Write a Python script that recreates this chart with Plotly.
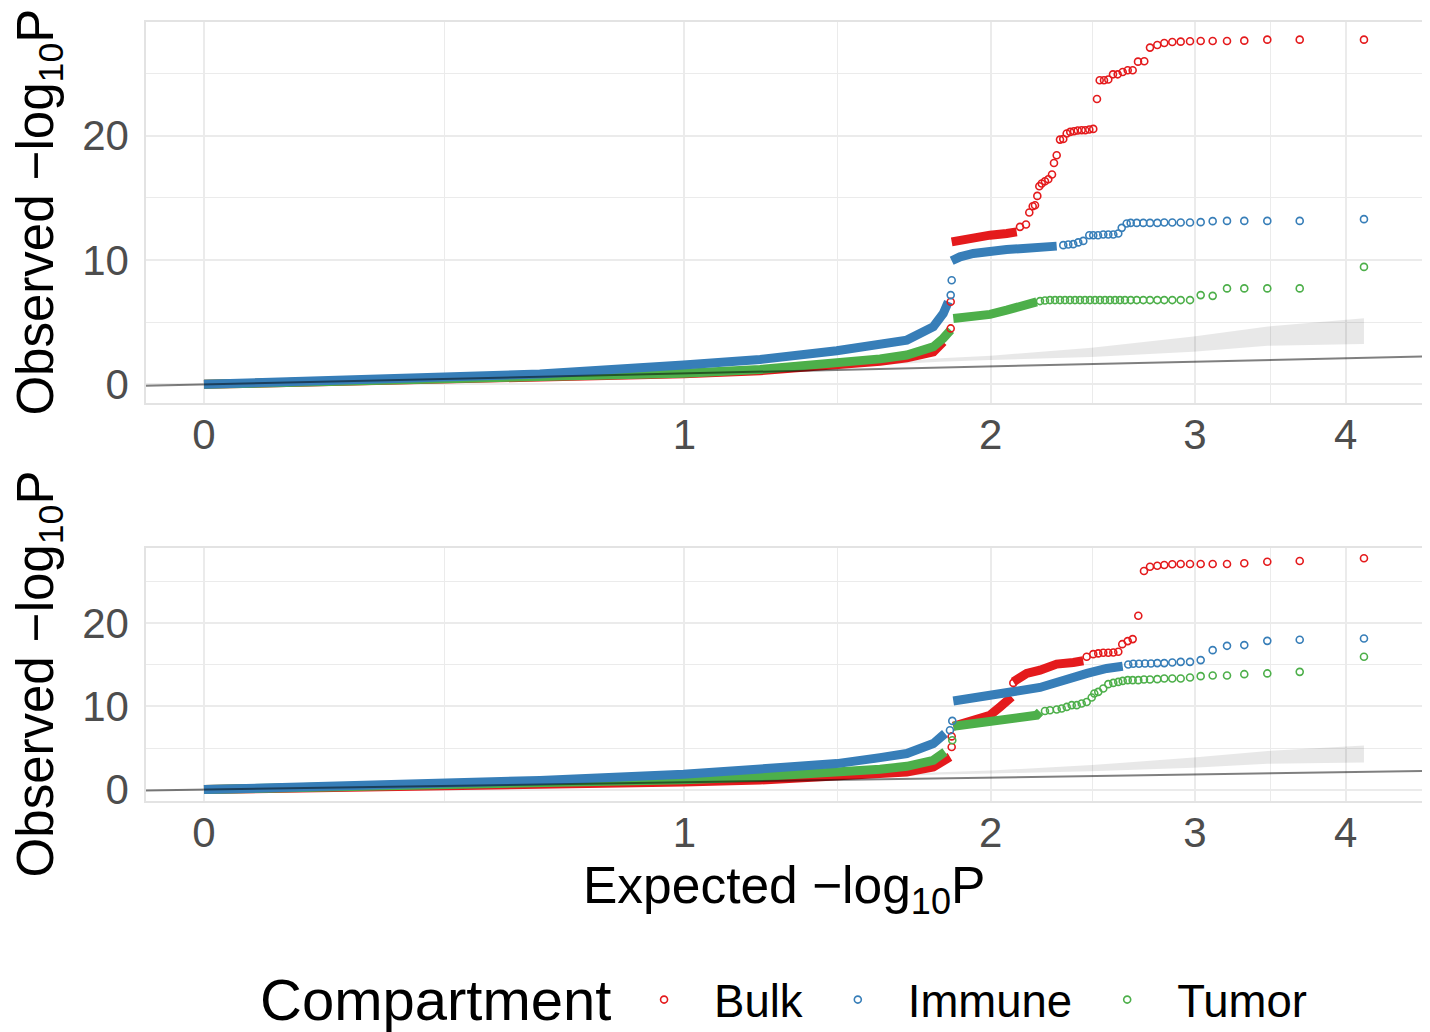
import numpy as np
import plotly.graph_objects as go

NaN = float("nan")

# ---------------- data: expected vs observed -log10(P) ----------------
# dense (heavily overplotted) stretches, segments separated by NaN
top_bulk_dense_x = [0, 0.177, 0.367, 0.656, 0.998, 1.207, 1.44, 1.584, 1.678, 1.775, 1.8125, NaN,
                    1.8447, 1.9295, 1.9969, 2.0662, 2.1087]
top_bulk_dense_y = [0, 0.15, 0.3, 0.5, 0.85, 1.1, 1.47, 1.85, 2.14, 2.62, 3.42, NaN,
                    11.46, 11.81, 12.0, 12.14, 12.27]
top_bulk_x = [1.8409, 1.8409, 2.1228, 2.1489, 2.1632, 2.1782, 2.1883, 2.1985, 2.2074, 2.2181, 2.2327,
              2.2477, 2.2644, 2.2734, 2.2858, 2.301, 2.3161, 2.332, 2.3487, 2.3662, 2.3837, 2.4026,
              2.42, 2.4392, 2.4585, 2.4766, 2.49, 2.5112, 2.5327, 2.5562, 2.5799, 2.6055, 2.6313,
              2.657, 2.6849, 2.7181, 2.7486, 2.788, 2.8262, 2.8706, 2.9178, 2.9709, 3.033, 3.104,
              3.1908, 3.2984, 3.4469, 3.6667, 4.1413]
top_bulk_y = [4.5, 6.64, 12.67, 12.86, 13.83, 14.33, 14.41, 15.16, 15.94, 16.16, 16.34,
              16.5, 16.88, 17.81, 18.43, 19.69, 19.74, 20.18, 20.31, 20.36, 20.42, 20.44,
              20.44, 20.5, 20.55, 22.96, 24.46, 24.46, 24.52, 24.94, 24.94, 25.13, 25.27,
              25.27, 25.96, 25.99, 27.09, 27.3, 27.46, 27.54, 27.57, 27.6, 27.62, 27.62,
              27.62, 27.65, 27.73, 27.73, 27.73]

top_immune_dense_x = [0, 0.177, 0.367, 0.656, 0.998, 1.207, 1.44, 1.584, 1.678, 1.775, 1.8125, 1.8317, NaN,
                      1.8447, 1.877, 1.9295, 1.9969, 2.0662, 2.1371, 2.2105, 2.2858]
top_immune_dense_y = [0, 0.25, 0.45, 0.83, 1.55, 2.0, 2.7, 3.16, 3.56, 4.63, 5.7, 6.64, NaN,
                      9.94, 10.26, 10.53, 10.74, 10.85, 10.93, 11.01, 11.12]
top_immune_x = [1.8409, 1.8447, 2.3161, 2.3394, 2.3627, 2.3864, 2.4103, 2.4392, 2.4585, 2.4817,
                2.5077, 2.5327, 2.5578, 2.583, 2.6005, 2.626, 2.6467, 2.6782, 2.7129, 2.7486,
                2.788, 2.8262, 2.8706, 2.9178, 2.9709, 3.033, 3.104, 3.1908, 3.2984, 3.4469,
                3.6667, 4.1413]
top_immune_y = [7.18, 8.38, 11.2, 11.25, 11.28, 11.42, 11.54, 12.0, 12.0, 12.0,
                12.06, 12.06, 12.06, 12.14, 12.59, 12.94, 12.99, 12.99, 12.99, 12.99,
                12.99, 13.02, 13.02, 13.02, 13.02, 13.05, 13.13, 13.15, 13.15, 13.15,
                13.15, 13.29]

top_tumor_dense_x = [0, 0.177, 0.367, 0.656, 0.998, 1.207, 1.44, 1.584, 1.678, 1.775, 1.8125, 1.8409, NaN,
                     1.8509, 1.9295, 1.9969, 2.0662, 2.1087, 2.1518, 2.1958]
top_tumor_dense_y = [0, 0.17, 0.33, 0.55, 0.9, 1.2, 1.69, 2.05, 2.36, 3.02, 3.7, 4.37, NaN,
                     5.3, 5.43, 5.63, 5.97, 6.19, 6.37, 6.64]
top_tumor_x = [2.2105, 2.2327, 2.2553, 2.2781, 2.301, 2.324, 2.3474, 2.3709, 2.3945, 2.4184,
               2.4426, 2.467, 2.4913, 2.5161, 2.5411, 2.5664, 2.5916, 2.6172, 2.6467, 2.6782,
               2.7129, 2.7486, 2.788, 2.8262, 2.8706, 2.9178, 2.9709, 3.033, 3.104, 3.1908,
               3.2984, 3.4469, 3.6667, 4.1413]
top_tumor_y = [6.7, 6.75, 6.78, 6.78, 6.78, 6.78, 6.78, 6.78, 6.78, 6.78,
               6.78, 6.78, 6.78, 6.78, 6.78, 6.78, 6.78, 6.78, 6.78, 6.78,
               6.78, 6.78, 6.78, 6.78, 6.78, 6.78, 6.78, 7.18, 7.12, 7.72,
               7.72, 7.72, 7.72, 9.45]

bot_bulk_dense_x = [0, 0.177, 0.367, 0.656, 0.998, 1.207, 1.44, 1.584, 1.678, 1.775, 1.819, 1.838, NaN,
                    1.8509, 1.9295, 1.9969, 2.0383, 2.0662, 2.0873, NaN,
                    2.0943, 2.1371, 2.1518, 2.2105, 2.2553, 2.2858, 2.3627, 2.4103]
bot_bulk_dense_y = [0, 0.15, 0.3, 0.52, 0.92, 1.15, 1.52, 1.85, 2.12, 2.72, 3.53, 3.93, NaN,
                    7.63, 8.35, 8.95, 9.95, 10.55, 11.16, NaN,
                    12.96, 13.57, 13.98, 14.37, 14.9, 15.1, 15.3, 15.5]
bot_bulk_x = [1.8447, 1.8447, 2.0943, 2.4266, 2.4585, 2.483, 2.5077, 2.5327, 2.5578, 2.583,
              2.6032, 2.6313, 2.657, 2.6865, 2.7165, 2.7486, 2.788, 2.8262, 2.8706, 2.9178,
              2.9709, 3.033, 3.104, 3.1908, 3.2984, 3.4469, 3.6667, 4.1413]
bot_bulk_y = [5.13, 6.4, 12.84, 15.98, 16.3, 16.39, 16.46, 16.46, 16.5, 16.58,
              17.5, 17.87, 18.11, 20.92, 26.3, 26.82, 26.94, 27.02, 27.11, 27.14,
              27.14, 27.14, 27.14, 27.14, 27.23, 27.42, 27.5, 27.83]

bot_immune_dense_x = [0, 0.177, 0.367, 0.656, 0.998, 1.207, 1.44, 1.584, 1.678, 1.775, 1.819, NaN,
                      1.8509, 1.9295, 1.9969, 2.0662, 2.1371, 2.2105, 2.2696, 2.3474, 2.4281, 2.5245, 2.6055]
bot_immune_dense_y = [0, 0.3, 0.6, 1.1, 1.84, 2.45, 3.13, 3.85, 4.34, 5.54, 6.75, NaN,
                      10.67, 11.08, 11.24, 11.57, 11.88, 12.29, 12.77, 13.5, 13.98, 14.58, 14.85]
bot_immune_x = [1.838, 1.847, 2.634, 2.6602, 2.69, 2.7219, 2.754, 2.788, 2.8262, 2.8706,
                2.9178, 2.9709, 3.033, 3.104, 3.1908, 3.2984, 3.4469, 3.6667, 4.1413]
bot_immune_y = [7.14, 8.27, 15.06, 15.14, 15.14, 15.18, 15.18, 15.22, 15.22, 15.3,
                15.37, 15.37, 15.58, 16.78, 17.3, 17.39, 17.9, 18.03, 18.19]

bot_tumor_dense_x = [0, 0.177, 0.367, 0.656, 0.998, 1.207, 1.44, 1.584, 1.678, 1.775, 1.819, NaN,
                     1.8509, 1.9295, 1.9969, 2.0662, 2.1371, 2.1958, 2.2105]
bot_tumor_dense_y = [0, 0.2, 0.4, 0.8, 1.2, 1.55, 2.0, 2.45, 2.8, 3.53, 4.53, NaN,
                     7.63, 7.95, 8.14, 8.35, 8.67, 8.95, 9.35]
bot_tumor_x = [1.847, 2.2327, 2.2553, 2.2858, 2.3088, 2.332, 2.3554, 2.379, 2.4026, 2.4266,
               2.4508, 2.4636, 2.483, 2.5077, 2.5327, 2.5578, 2.583, 2.6055, 2.6313, 2.657,
               2.6865, 2.7165, 2.7486, 2.788, 2.8262, 2.8706, 2.9178, 2.9709, 3.033, 3.104,
               3.1908, 3.2984, 3.4469, 3.6667, 4.1413]
bot_tumor_y = [5.94, 9.45, 9.55, 9.64, 9.76, 9.95, 10.16, 10.16, 10.36, 10.55,
               11.08, 11.57, 11.76, 12.17, 12.69, 12.84, 12.96, 13.08, 13.17, 13.17,
               13.17, 13.25, 13.25, 13.29, 13.37, 13.37, 13.37, 13.49, 13.65, 13.73,
               13.73, 13.89, 13.98, 14.17, 15.98]

# null confidence band (expected, lower, upper)
band_x = [0, 1.0, 1.5, 1.8, 2.0, 2.45, 2.99, 3.45, 4.1413]
band_lo = [0, 0.97, 1.45, 1.82, 1.95, 2.2, 2.63, 3.1, 3.25]
band_hi = [0, 1.04, 1.58, 2.1, 2.3, 2.95, 3.85, 4.65, 5.32]

x_ticks = [0, 1, 2, 3, 4]
y_ticks = [0, 10, 20]
y_minor = [5, 15, 25]
series_names = ["Bulk", "Immune", "Tumor"]

# ---------------- styling ----------------
COLORS = {"Bulk": "#E41A1C", "Immune": "#377EB8", "Tumor": "#4DAF4A"}
FONT = "Liberation Sans, Arial, Helvetica, sans-serif"
GRID = "#EBEBEB"


def tr(v):
    """asinh (pseudo-log) transform of the expected axis"""
    return np.arcsinh(np.asarray(v, dtype=float))


x_range = [-0.1064, 2.2349]
fig = go.Figure()

panels = [
    ("x", "y", {
        "Bulk": (top_bulk_dense_x, top_bulk_dense_y, top_bulk_x, top_bulk_y),
        "Immune": (top_immune_dense_x, top_immune_dense_y, top_immune_x, top_immune_y),
        "Tumor": (top_tumor_dense_x, top_tumor_dense_y, top_tumor_x, top_tumor_y),
    }, True),
    ("x2", "y2", {
        "Bulk": (bot_bulk_dense_x, bot_bulk_dense_y, bot_bulk_x, bot_bulk_y),
        "Immune": (bot_immune_dense_x, bot_immune_dense_y, bot_immune_x, bot_immune_y),
        "Tumor": (bot_tumor_dense_x, bot_tumor_dense_y, bot_tumor_x, bot_tumor_y),
    }, False),
]

for xa, ya, data, legend_on in panels:
    # confidence band
    fig.add_trace(go.Scatter(x=tr(band_x), y=band_lo, xaxis=xa, yaxis=ya, mode="lines",
                             line=dict(width=0), hoverinfo="skip", showlegend=False))
    fig.add_trace(go.Scatter(x=tr(band_x), y=band_hi, xaxis=xa, yaxis=ya, mode="lines",
                             line=dict(width=0), fill="tonexty", fillcolor="rgba(0,0,0,0.09)",
                             hoverinfo="skip", showlegend=False))
    # dense overplotted stretches
    for name in ["Bulk", "Tumor", "Immune"]:
        dx, dy, _, _ = data[name]
        fig.add_trace(go.Scatter(x=tr(dx), y=dy, xaxis=xa, yaxis=ya, mode="lines",
                                 line=dict(color=COLORS[name], width=9),
                                 connectgaps=False, showlegend=False, legendgroup=name))
    # individual points
    for name in series_names:
        _, _, px, py = data[name]
        fig.add_trace(go.Scatter(x=tr(px), y=py, xaxis=xa, yaxis=ya, mode="markers", name=name,
                                 marker=dict(symbol="circle-open", size=7, color=COLORS[name],
                                             line=dict(width=1.6, color=COLORS[name])),
                                 showlegend=legend_on, legendgroup=name))
    # identity reference line
    fig.add_trace(go.Scatter(x=x_range, y=x_range, xaxis=xa, yaxis=ya, mode="lines",
                             line=dict(color="rgba(0,0,0,0.5)", width=2),
                             hoverinfo="skip", showlegend=False))

xt = tr(x_ticks)
x_minor = [(a + b) / 2 for a, b in zip(xt[:-1], xt[1:])]

axis_common = dict(showgrid=True, gridcolor=GRID, gridwidth=2.2, zeroline=False, automargin=False,
                   showline=True, linecolor="#E3E3E3", linewidth=1.5, mirror=True,
                   ticks="", tickfont=dict(family=FONT, size=42, color="#4D4D4D"))

xaxis_cfg = dict(axis_common, range=x_range, tickmode="array", tickvals=xt,
                 ticktext=[str(v) for v in x_ticks], ticklabelstandoff=-6,
                 minor=dict(tickmode="array", tickvals=x_minor, showgrid=True,
                            gridcolor=GRID, gridwidth=1.2))
yaxis_cfg = dict(axis_common, tickmode="array", tickvals=y_ticks,
                 ticktext=[str(v) for v in y_ticks], ticklabelstandoff=7,
                 minor=dict(tickmode="array", tickvals=y_minor, showgrid=True,
                            gridcolor=GRID, gridwidth=1.2))

top_dom = [0.5109, 1.0]
bot_dom = [0.0, 0.3252]

# the page adds an 8px body margin; the figure is sized so the plot lands where the reference has it
fig.update_layout(
    width=1422, height=1024,
    margin=dict(l=138, r=8, t=14, b=231),
    paper_bgcolor="white", plot_bgcolor="white",
    font=dict(family=FONT, color="black"),
    xaxis=dict(xaxis_cfg, domain=[0, 1], anchor="y"),
    yaxis=dict(yaxis_cfg, domain=top_dom, anchor="x", range=[-1.50, 29.15]),
    xaxis2=dict(xaxis_cfg, domain=[0, 1], anchor="y2"),
    yaxis2=dict(yaxis_cfg, domain=bot_dom, anchor="x2", range=[-1.37, 29.11]),
    legend=dict(orientation="h", xref="container", yref="container",
                x=0.4262, xanchor="left", y=0.03125, yanchor="middle",
                font=dict(family=FONT, size=45.5, color="black"),
                itemwidth=90, bgcolor="rgba(0,0,0,0)"),
    showlegend=True,
)

ytitle = "Observed \u2212log<sub>10</sub>P"
for dom in (top_dom, bot_dom):
    fig.add_annotation(text=ytitle, xref="paper", yref="paper", x=-0.0838,
                       y=(dom[0] + dom[1]) / 2, xanchor="center", yanchor="middle",
                       textangle=-90, showarrow=False, borderpad=0,
                       font=dict(family=FONT, size=51, color="black"))
fig.add_annotation(text="Expected \u2212log<sub>10</sub>P", xref="paper", yref="paper",
                   x=0.5, y=-0.1129, xanchor="center", yanchor="middle", showarrow=False,
                   font=dict(family=FONT, size=51.5, color="black"))
# legend title
fig.add_annotation(text="Compartment", xref="paper", yref="paper", x=0.0878, y=-0.2542,
                   xanchor="left", yanchor="middle", showarrow=False,
                   font=dict(family=FONT, size=58, color="black"))

fig.write_html("out.html")
